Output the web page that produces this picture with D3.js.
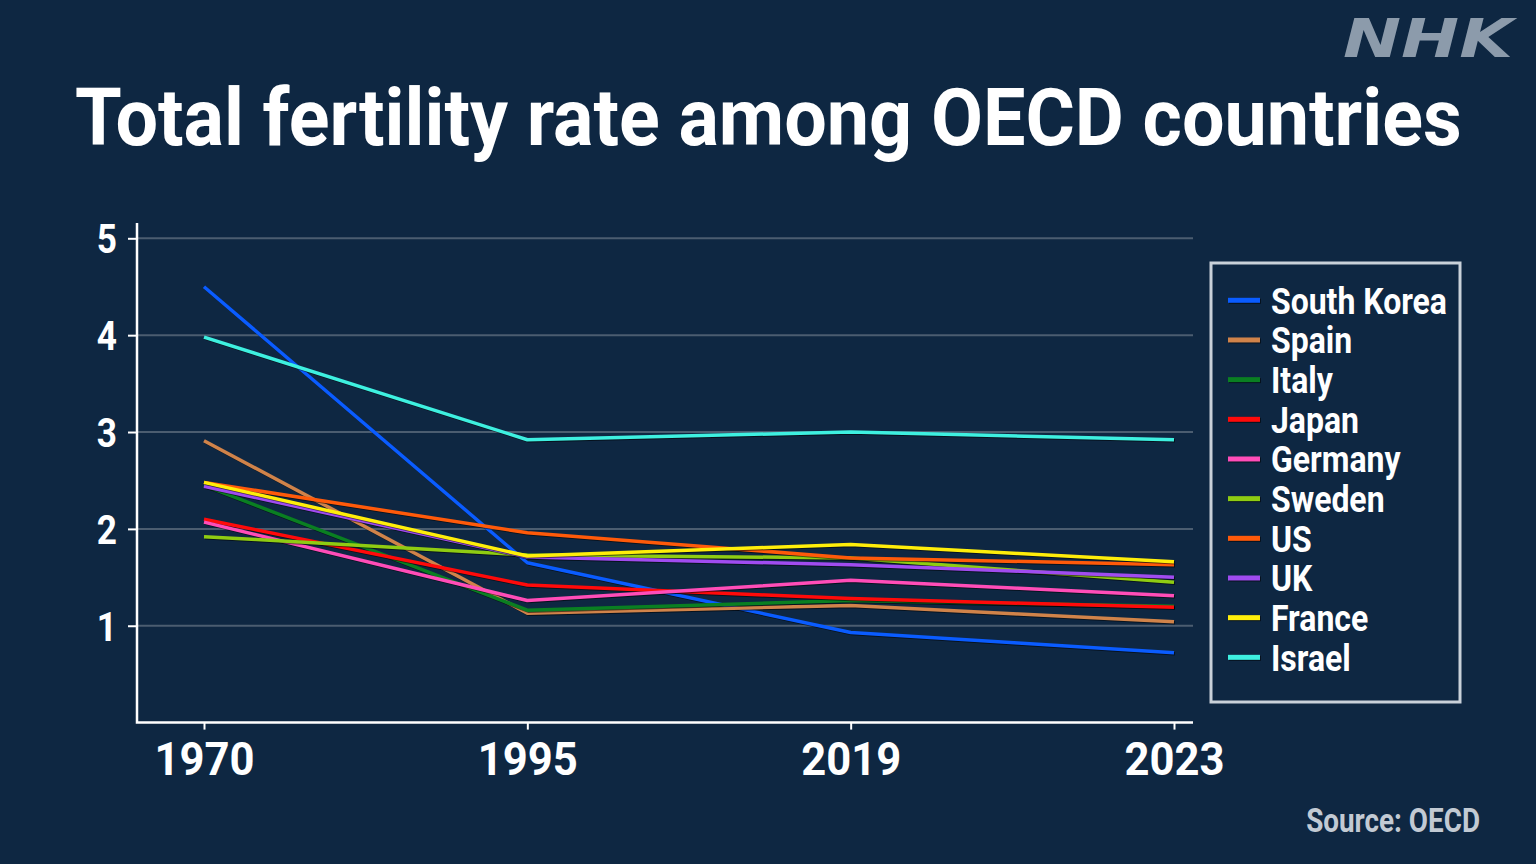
<!DOCTYPE html>
<html>
<head>
<meta charset="utf-8">
<script src="https://cdn.jsdelivr.net/npm/d3@7"></script>
<style>
  html, body { margin: 0; padding: 0; background: #0e2742; }
  svg { display: block; }
  text { font-family: "Roboto", "Liberation Sans", sans-serif; }
</style>
</head>
<body>
<svg id="chart"></svg>
<script>
const years = ['1970', '1995', '2019', '2023'];
const countries = ['South Korea', 'Spain', 'Italy', 'Japan', 'Germany', 'Sweden', 'US', 'UK', 'France', 'Israel'];
const colors = ['#0a5cff', '#d0834a', '#0a7f22', '#ff0a0a', '#ff4db8', '#8fcc12', '#ff5a0a', '#a04cf0', '#ffee0a', '#3ef0e0'];

const southKorea = [4.5, 1.65, 0.93, 0.72];
const spain = [2.91, 1.13, 1.21, 1.04];
const italy = [2.45, 1.16, 1.26, 1.2];
const japan = [2.1, 1.42, 1.28, 1.19];
const germany = [2.07, 1.26, 1.47, 1.31];
const sweden = [1.92, 1.73, 1.7, 1.45];
const us = [2.48, 1.96, 1.7, 1.63];
const uk = [2.44, 1.71, 1.63, 1.5];
const france = [2.48, 1.72, 1.84, 1.66];
const israel = [3.98, 2.92, 3.0, 2.92];

const seriesValues = [southKorea, spain, italy, japan, germany, sweden, us, uk, france, israel];
const yTicks = [1, 2, 3, 4, 5];

const width = 1536, height = 864;
const svg = d3.select('#chart').attr('width', width).attr('height', height);

svg.append('rect').attr('width', width).attr('height', height).attr('fill', '#0e2742');

// squeeze text horizontally around its anchor (the reference uses a condensed face)
function condense(sel, s) {
  sel.each(function() {
    const t = d3.select(this);
    const tx = +t.attr('x') || 0;
    t.attr('transform', `translate(${tx},0) scale(${s},1) translate(${-tx},0)`);
  });
}
function fitWidth(sel, target) {
  const len = sel.node().getComputedTextLength();
  return target / len;
}

// logo + title
svg.append('text')
  .attr('x', 1513).attr('y', 57)
  .attr('text-anchor', 'end')
  .attr('fill', '#8c9bab')
  .style('font-family', '"DejaVu Sans", sans-serif')
  .style('font-weight', 'bold')
  .style('font-style', 'italic')
  .style('font-size', '54px')
  .attr('textLength', 170)
  .attr('lengthAdjust', 'spacingAndGlyphs')
  .text('NHK');

const title = svg.append('text')
  .attr('x', 75).attr('y', 145)
  .attr('fill', '#ffffff')
  .style('font-weight', 'bold')
  .style('font-size', '80px')
  .text('Total fertility rate among OECD countries');
condense(title, fitWidth(title, 1387));

const x = d3.scalePoint().domain(years).range([204, 1174]);
const y = d3.scaleLinear().domain([0, 5]).range([722.6, 238.3]);

// grid
svg.append('g')
  .selectAll('line')
  .data(yTicks)
  .join('line')
  .attr('x1', 137).attr('x2', 1193)
  .attr('y1', d => y(d)).attr('y2', d => y(d))
  .attr('stroke', '#4b5d70')
  .attr('stroke-width', 2);

// y axis
const yAxis = svg.append('g')
  .attr('transform', 'translate(137,0)')
  .call(d3.axisLeft(y).tickValues(yTicks).tickFormat(d3.format('d')).tickSize(9).tickPadding(11));
yAxis.select('.domain').remove();
yAxis.selectAll('line').attr('stroke', '#ffffff').attr('stroke-width', 2);
yAxis.selectAll('text')
  .attr('fill', '#ffffff')
  .style('font-size', '40px')
  .style('font-weight', 'bold')
  .attr('dy', '0.36em')
  .call(condense, 0.88);

// x axis
const xAxis = svg.append('g')
  .attr('transform', 'translate(0,722.6)')
  .call(d3.axisBottom(x).tickSize(7).tickSizeOuter(0).tickPadding(10));
xAxis.select('.domain').remove();
xAxis.selectAll('line').attr('stroke', '#ffffff').attr('stroke-width', 2);
const xLabels = xAxis.selectAll('text')
  .attr('fill', '#ffffff')
  .style('font-size', '46px')
  .style('font-weight', 'bold')
  .attr('dy', '0.77em');
condense(xLabels, fitWidth(xLabels.filter((d, i) => i === 0), 100));

// axis lines
svg.append('path')
  .attr('d', d3.line()([[137, 223], [137, 722.6], [1193, 722.6]]))
  .attr('fill', 'none')
  .attr('stroke', '#ffffff')
  .attr('stroke-width', 2.5);

// lines
const line = d3.line()
  .x((d, i) => x(years[i]))
  .y(d => y(d));

const series = countries.map((c, i) => ({name: c, color: colors[i], values: seriesValues[i]}));

svg.append('g')
  .attr('fill', 'none')
  .attr('stroke-linejoin', 'round')
  .selectAll('path')
  .data(series)
  .join('path')
  .attr('d', d => line(d.values))
  .attr('stroke', d => d.color)
  .attr('stroke-width', 3.5)
  .style('filter', 'drop-shadow(1px 1px 0px rgba(0,0,0,0.55))');

// legend
const legend = svg.append('g');
legend.append('rect')
  .attr('x', 1211).attr('y', 263)
  .attr('width', 249).attr('height', 439)
  .attr('fill', 'none')
  .attr('stroke', '#c9d1d9')
  .attr('stroke-width', 3);

const rows = legend.selectAll('g.row')
  .data(series)
  .join('g')
  .attr('class', 'row')
  .attr('transform', (d, i) => `translate(0,${300.3 + i * 39.67})`);

rows.append('line')
  .attr('x1', 1228).attr('x2', 1260)
  .attr('stroke', d => d.color)
  .attr('stroke-width', 5)
  .style('filter', 'drop-shadow(1px 1px 0px rgba(0,0,0,0.55))');

const legendText = rows.append('text')
  .attr('x', 1271)
  .attr('dy', '0.36em')
  .attr('fill', '#ffffff')
  .style('font-size', '37px')
  .style('font-weight', 'bold')
  .text(d => d.name);
condense(legendText, fitWidth(legendText.filter((d, i) => i === 0), 176));

// source
const source = svg.append('text')
  .attr('x', 1480).attr('y', 832)
  .attr('text-anchor', 'end')
  .attr('fill', '#c2cad3')
  .style('font-size', '33px')
  .style('font-weight', 'bold')
  .text('Source: OECD');
condense(source, fitWidth(source, 174));
</script>
</body>
</html>
